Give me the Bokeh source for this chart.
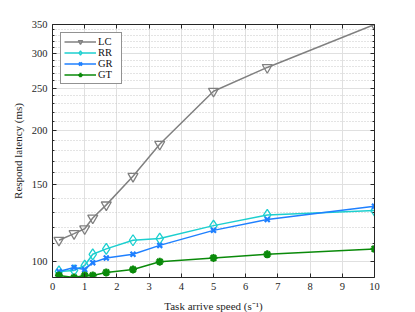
from bokeh.plotting import figure
from bokeh.models import Range1d, FixedTicker, LogAxis, LinearAxis, Legend
from bokeh.embed import file_html
from bokeh.resources import INLINE

# ---- data ----
speed = [0.2, 0.67, 1.0, 1.25, 1.67, 2.5, 3.33, 5.0, 6.67, 10.0]
lc = [112, 116, 119, 126, 135, 157, 186, 246, 279, 350]
rr = [95, 95.5, 98, 104, 107, 112, 113, 121, 128, 131]
gr = [95, 97, 96, 99.5, 102, 104, 109, 118, 125, 134]
gt = [93, 92, 93, 93, 94.5, 96, 100, 102, 104, 107]

x_ticks = [0, 1, 2, 3, 4, 5, 6, 7, 8, 9, 10]
y_ticks = [100, 150, 200, 250, 300, 350]
y_minor = [90, 110, 120, 130, 140, 160, 170, 180, 190, 210, 220, 230, 240,
           260, 270, 280, 290, 310, 320, 330, 340]

FONT = "Liberation Serif"
AX = "#262626"

p = figure(frame_width=322, frame_height=253, y_axis_type="log",
           x_range=Range1d(0, 10), y_range=Range1d(92, 350),
           output_backend="svg", toolbar_location=None,
           min_border_left=52, min_border_top=24, min_border_right=30,
           min_border_bottom=35)
p.outline_line_color = None
p.background_fill_color = "white"

xt = FixedTicker(ticks=x_ticks, minor_ticks=[])
yt = FixedTicker(ticks=y_ticks, minor_ticks=y_minor)

for ax in p.xaxis:
    ax.ticker = xt
for ax in p.yaxis:
    ax.ticker = yt

def style_axis(ax, labels=True):
    ax.axis_line_color = AX
    ax.major_tick_line_color = AX
    ax.minor_tick_line_color = AX
    ax.major_tick_in = 4
    ax.major_tick_out = 0
    ax.minor_tick_in = 2
    ax.minor_tick_out = 0
    ax.major_label_text_font = FONT
    ax.major_label_text_font_size = "10.5px"
    ax.major_label_text_color = AX if labels else None
    ax.axis_label_text_font = FONT
    ax.axis_label_text_font_size = "11px"
    ax.axis_label_text_font_style = "normal"
    ax.axis_label_text_color = AX
    ax.major_label_standoff = 5

style_axis(p.xaxis[0])
style_axis(p.yaxis[0])
p.xaxis[0].axis_label = "Task arrive speed (s⁻¹)"
p.yaxis[0].axis_label = "Respond latency (ms)"
p.xaxis[0].axis_label_standoff = 7
p.yaxis[0].axis_label_standoff = 5

top = LinearAxis(ticker=xt)
style_axis(top, labels=False)
top.major_label_text_font_size = "0px"
top.major_label_standoff = 0
p.add_layout(top, "above")
right = LogAxis(ticker=yt)
style_axis(right, labels=False)
right.major_label_text_font_size = "0px"
right.major_label_standoff = 0
p.add_layout(right, "right")

# grids
p.xgrid.grid_line_color = "#e0e0e0"
p.xgrid.grid_line_width = 1
p.ygrid.grid_line_color = "#e0e0e0"
p.ygrid.grid_line_width = 1
p.ygrid.minor_grid_line_color = "#c8c8c8"
p.ygrid.minor_grid_line_dash = "1 2"
p.ygrid.minor_grid_line_width = 1

series = [
    ("LC", lc, "#808080", "inverted_triangle", 10),
    ("RR", rr, "#1ccfcf", "diamond", 11),
    ("GR", gr, "#1f80ff", "x", 7),
    ("GT", gt, "#0a8a0a", "asterisk", 8),
]

items = []
for name, ys, col, mk, sz in series:
    r1 = p.line(speed, ys, line_color=col, line_width=1.5)
    if mk in ("x", "asterisk"):
        r2 = p.scatter(speed, ys, marker=mk, size=sz, line_color=col,
                       line_width=2.2, fill_color=None)
    else:
        r2 = p.scatter(speed, ys, marker=mk, size=sz, line_color=col,
                       line_width=1.3, fill_color=None)
    items.append((name, [r1, r2]))

legend = Legend(items=items, location="top_left")
legend.margin = 8
legend.padding = 3
legend.spacing = 0
legend.glyph_width = 32
legend.glyph_height = 11
legend.label_standoff = 2
legend.label_text_font = FONT
legend.label_text_font_size = "10.5px"
legend.label_text_color = "#111111"
legend.label_height = 11
legend.border_line_color = "#262626"
legend.border_line_width = 1
legend.background_fill_alpha = 1
p.add_layout(legend)

open("out.html", "w").write(file_html(p, INLINE))
